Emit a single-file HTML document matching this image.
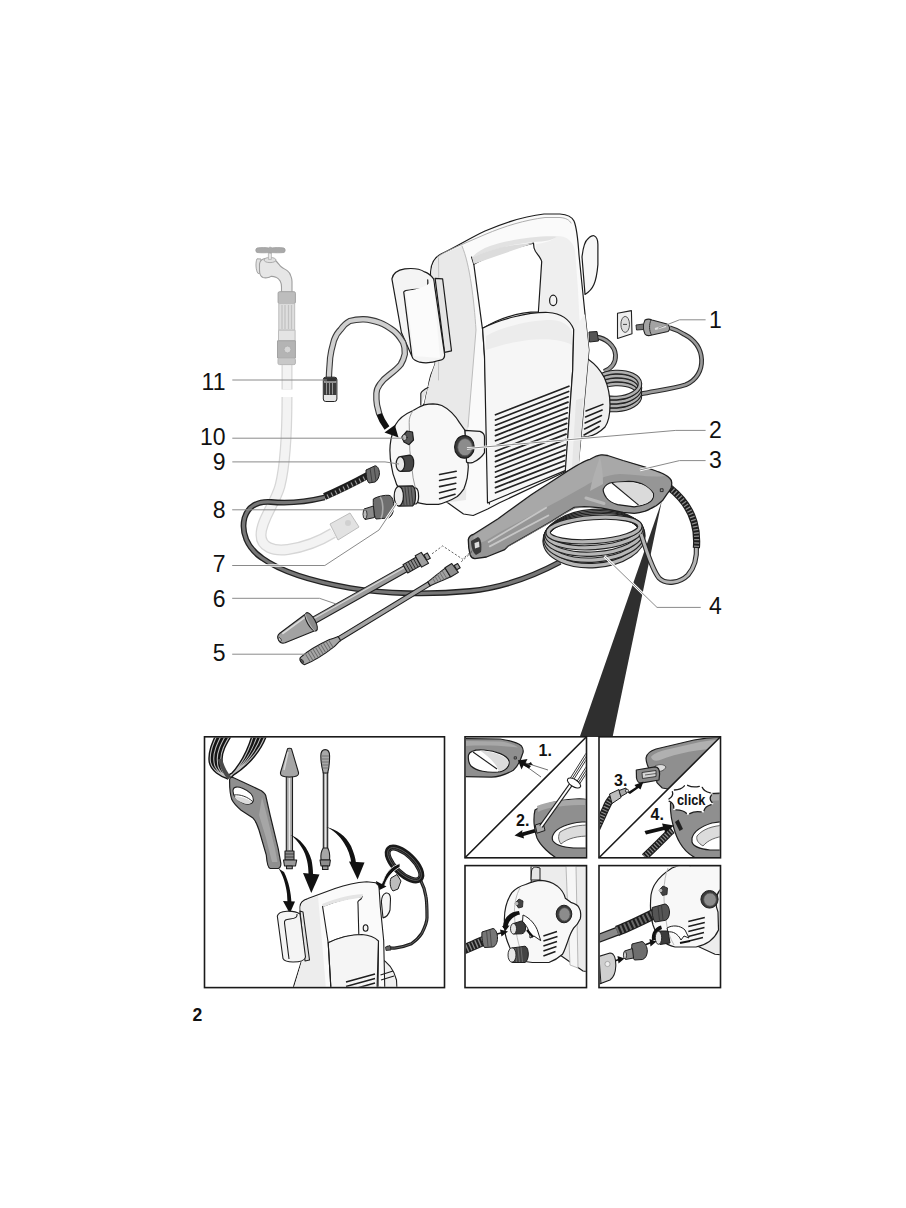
<!DOCTYPE html>
<html><head><meta charset="utf-8"><style>
html,body{margin:0;padding:0;background:#fff;}
body{width:906px;height:1208px;overflow:hidden;}
svg{display:block;}
text{font-family:"Liberation Sans",sans-serif;}
</style></head><body>
<svg width="906" height="1208" viewBox="0 0 906 1208">
<rect width="906" height="1208" fill="#fff"/>
<!-- WEDGE -->
<path d="M579.7,737 L661.8,501 L612.6,737 Z" fill="#2f2f2f"/>
<!-- BOX A CONTENT -->
<clipPath id="cA"><rect x="205.3" y="737.6" width="238.4" height="249.2"/></clipPath>
<g clip-path="url(#cA)" stroke-linejoin="round">
<!-- coil strands -->
<g fill="none">
<path d="M218.0,733 C214.0,742 209.0,752 210.5,762 C212.0,770 221.0,775.5 228.5,777.8 M222.5,733 C218.0,742 212.5,752 214.0,762 C214.5,770 222.5,775.5 228.5,777.8 M227.0,733 C222.0,742 216.0,752 217.5,762 C217.0,770 224.0,775.5 228.5,777.8 M231.5,733 C226.0,742 219.5,752 221.0,762 C219.5,770 225.5,775.5 228.5,777.8 M254.0,733 C250.0,748 242.0,765 230,777.2 M258.0,733 C253.8,748 244.2,765 230,776.7 M262.0,733 C257.6,748 246.4,765 230,776.2 M266.0,733 C261.4,748 248.6,765 230,775.7" stroke="#141414" stroke-width="3.9"/>
<path d="M218.0,733 C214.0,742 209.0,752 210.5,762 C212.0,770 221.0,775.5 228.5,777.8 M222.5,733 C218.0,742 212.5,752 214.0,762 C214.5,770 222.5,775.5 228.5,777.8 M227.0,733 C222.0,742 216.0,752 217.5,762 C217.0,770 224.0,775.5 228.5,777.8 M231.5,733 C226.0,742 219.5,752 221.0,762 C219.5,770 225.5,775.5 228.5,777.8 M254.0,733 C250.0,748 242.0,765 230,777.2 M258.0,733 C253.8,748 244.2,765 230,776.7 M262.0,733 C257.6,748 246.4,765 230,776.2 M266.0,733 C261.4,748 248.6,765 230,775.7" stroke="#bdbdbd" stroke-width="1.1"/>
<path d="M220,759 C222,767 225,773 229.5,778" stroke="#4a4a4a" stroke-width="4.2"/>
</g>
<!-- gun hanging -->
<path d="M229.6,779.5 C230,777.5 232,777 233.1,777.5 L261.4,790.7 C264,792.5 265.5,794 265.8,796 L270.2,815.5 L278.2,848.6 L280.8,863.2 C281,866 280,868 278.2,868.5 L270.2,868.5 C268,868 267,864 266.3,855.2 L259,830 C257,824 255,820 253,818.1 L241.1,810.2 C236,806 233,802 231.8,799.6 C230,794 229.5,786 229.6,779.5 Z" fill="#8f8f8f" stroke="#1e1e1e" stroke-width="1.2"/>
<path d="M262,797 L267,816 L275,849 L277.5,862 L272,862 L266,838 L259,815 Z" fill="#a6a6a6" stroke="none"/>
<path d="M233,791 C233,786 238,786.5 243,788.5 C249,791 253.5,795 253.4,800 C253,804 249,805 244,803.5 C238,801 233,797 233,791 Z" fill="#fff" stroke="#1e1e1e" stroke-width="1.1"/>
<path d="M234,795 C240,794 248,797 252.5,801.5" fill="none" stroke="#333" stroke-width="1"/>
<path d="M234.5,796.5 C240,796 247,798.5 252,802 C250,804.5 246,804.5 243,803 C238,801 235,799 234.5,796.5 Z" fill="#dcdcdc" stroke="none"/>
<!-- lance 6 vertical -->
<g stroke="#1e1e1e" stroke-width="1.1">
<rect x="286.3" y="776" width="6.2" height="76" fill="#a8a8a8"/>
<path d="M289.4,778 V850" stroke="#e8e8e8" stroke-width="1.4"/>
<path d="M287.5,748.8 C288,748 291,748 291.5,748.8 L298.5,772.5 C299,776 296,777 289.4,777 C283,777 280,776 280.5,772.5 Z" fill="#a5a5a5"/>
<path d="M288,752 L284,770" stroke="#d6d6d6" stroke-width="1.5"/>
<rect x="285" y="851" width="9" height="9" fill="#8e8e8e"/>
<path d="M285,854 h9 M285,857 h9" stroke-width="0.7"/>
<path d="M283.5,860 L296.7,860 L295.5,866 L284.5,866 Z" fill="#9a9a9a"/>
<rect x="286.5" y="866" width="5.8" height="2.8" fill="#999"/>
</g>
<!-- lance 5 vertical -->
<g stroke="#1e1e1e" stroke-width="1.1">
<rect x="323.3" y="772" width="4.4" height="78" fill="#aaa"/>
<path d="M325.5,774 V848" stroke="#e6e6e6" stroke-width="1"/>
<path d="M325.2,749.6 C328,749.6 329.6,751 329.6,756 C329.6,764 328.5,770 327.7,773 L323.3,773 C322.5,770 320.8,764 320.8,756 C320.8,751 322.5,749.6 325.2,749.6 Z" fill="#a8a8a8"/>
<path d="M322,756 h7 M322,759 h7.2 M322,762 h7 M322.3,765 h6.6 M322.6,768 h6" stroke="#666" stroke-width="0.8"/>
<path d="M323.3,848 C321,851 320.5,855 321,860 L329.6,860 C330,855 329.5,851 327.7,848 Z" fill="#a6a6a6"/>
<path d="M320,860 L330.4,860 L329.5,866 L321,866 Z" fill="#8e8e8e"/>
<rect x="322.5" y="866" width="5.5" height="3.5" fill="#999"/>
</g>
<!-- arrows -->
<g fill="#111" stroke="none">
<path d="M290.5,835 C300,838 308,848 311.5,860 C312.5,865 313,870 313,874 L308.5,874 C308.5,866 307,856 302,848 C299,843 295,838 290.5,835 Z"/>
<path d="M303,873 L319.5,874.5 L311.3,893 Z"/>
<path d="M326.4,827 C336,829 346,836 351,846 C354,853 355.5,858 356,863 L351.5,864 C350.5,856 348,849 344,843 C340,836 333,830 326.4,827 Z"/>
<path d="M349,861.5 L364.5,862.5 L357.6,879.5 Z"/>
<path d="M278.5,868.5 C283,875 286,885 287,894 L287.5,903 L291.5,903 C291,893 289,882 284,872 Z"/>
<path d="M283,901 L295,901.5 L289.8,913.5 Z"/>
</g>
<!-- power cord + coil ring -->
<g fill="none">
<path d="M386.6,947.4 C390,948.2 393,948.3 395.9,947.9 C402,947 407,945.5 411.4,943.7 C416,940.5 419.5,937 421.8,933.4 C425,927 427,922 427,917.8 C427,910 427,903 426,897 C425,890 423,885 420.7,880.6" stroke="#1e1e1e" stroke-width="3.2"/>
<path d="M386.6,947.4 C390,948.2 393,948.3 395.9,947.9 C402,947 407,945.5 411.4,943.7 C416,940.5 419.5,937 421.8,933.4 C425,927 427,922 427,917.8 C427,910 427,903 426,897 C425,890 423,885 420.7,880.6" stroke="#666" stroke-width="1"/>
<ellipse cx="404.5" cy="864" rx="21.5" ry="9.5" transform="rotate(44 404.5 864)" stroke="#1a1a1a" stroke-width="6"/>
<ellipse cx="404.5" cy="864" rx="21.5" ry="9.5" transform="rotate(44 404.5 864)" stroke="#666" stroke-width="0.8"/>
<ellipse cx="404.5" cy="864" rx="19.5" ry="7.8" transform="rotate(44 404.5 864)" stroke="#555" stroke-width="0.7"/>
</g>
<path d="M385.5,947 L390,945.5 L391,950 L386,950.5 Z" fill="#666" stroke="#1e1e1e" stroke-width="0.8"/>
<path d="M391,878 L397,874.5 L401,881 L398,889 L393,891 C390,888 389.5,882 391,878 Z" fill="#bdbdbd" stroke="#1e1e1e" stroke-width="1"/>
<path d="M400,863.5 C392,866 386,872 383.5,880 L381,885 L384.5,886 C386.5,879 391,872 400,867 Z" fill="#111" stroke="#fff" stroke-width="0.8"/>
<path d="M376,881 L386.5,886.5 L377.5,891 Z" fill="#111"/>
<!-- mini machine -->
<g stroke="#1e1e1e" stroke-width="1.1">
<path d="M380,958 C388,962 394,970 396.5,980 L397,990 L380,990 Z" fill="#f0f0f0"/>
<path d="M292.5,990 L301.2,961.8 L300,907 C300,903 303,900 307.9,898.6 L335,888.5 C345,885 356,882.5 366.7,881.7 L375.7,882.8 C377.5,884 379,886 379.1,888.5 L380.3,906.6 L383.7,940.5 L384.8,990 Z" fill="#fafafa"/>
<path d="M300.5,907 C301,903 304,901 308,899.5 L318,896 C320,920 323,950 326,990 L293.5,990 L301.5,962 Z" fill="#ededed" stroke="none"/>
<path d="M322.6,906.6 C335,901 350,897.5 362.2,896.4 L361,899 C357.5,901 357.6,902 358,904 L358.8,934.8 C348,935.5 338,938 328.2,942.8 Z" fill="#fff"/>
<path d="M323.5,907 C335,902 350,899 362,897.5 L363,894 C348,895 334,899 322,904 Z" fill="#e4e4e4" stroke="none"/>
<path d="M328.2,942.8 C340,937 352,934.5 362,934.5 C370,935 375,937.5 378.5,941 L378,990 L331,990 Z" fill="#f5f5f5"/>
<path d="M378.5,941 L377,990" fill="none"/>
<path d="M328.2,942.8 L331,990" fill="none"/>
<path d="M381.4,902 C381.5,898 383,894 386,893 C389,892.5 390.5,895 390.5,899 L390,910 C389,914 386,917 383,917.9 Z" fill="#f6f6f6"/>
<ellipse cx="365.6" cy="928" rx="2.4" ry="3.3" fill="#f4f4f4"/>
<path d="M300,911 L303,912 L309.5,960 L305,961 Z" fill="#e2e2e2"/>
<path d="M277.3,916 C278,913 282,911.5 287,911.2 C292,911 297,912 300,914 L305.5,957 C305,960.5 300,962 293,962 C287,962 284,960.5 283,958.5 Z" fill="#f4f4f4"/>
<path d="M297,914 C297.5,917 296,918.5 290,919 C286,919.5 284,920 284.5,923 L289,959" fill="none"/>
<path d="M346,982 L375,974 M346,986.5 L375,978.5 M350,990 L375,983" stroke-width="1.5"/>
<path d="M380.5,975 L393,971 M381,980 L394,976" stroke-width="1.3"/>
</g>
</g>

<!-- BOX B CONTENT -->
<clipPath id="cB1"><path d="M465.8,737.6 L585.7,737.6 L465.8,857 Z"/></clipPath>
<clipPath id="cB2"><path d="M585.7,737.6 L585.7,857 L465.8,857 Z"/></clipPath>
<clipPath id="cC1"><path d="M599.8,737.6 L719.7,737.6 L599.8,857 Z"/></clipPath>
<clipPath id="cC2"><path d="M719.7,737.6 L719.7,857 L599.8,857 Z"/></clipPath>
<g clip-path="url(#cB1)" stroke-linejoin="round">
<path d="M460,738.5 L500,739 C510,740.5 518,743 521.5,746 C523.5,749 523.5,752 522.5,754 C520,762 516,768 513.3,770.2 C505,775 498,777 491.4,777.1 L460,776.5 Z" fill="#8f8f8f" stroke="#1e1e1e" stroke-width="1.2"/>
<path d="M462,741 L500,741.5 C509,742.5 515,745 518,747.5 C505,746 490,745 462,746 Z" fill="#a8a8a8" stroke="none"/>
<path d="M468.5,755 C470,750 476,749.5 484,750 C496,751 507,755 509,761 C510,766 506,771 498,772 C488,773 476,771 471,766 C468.5,763 468,759 468.5,755 Z" fill="#fff" stroke="#1e1e1e" stroke-width="1.2"/>
<path d="M480,750.5 C494,751.5 506,756 508.5,762 C509,766 505,770 499,771.5 C496,763 488,756 480,750.5 Z" fill="#dcdcdc" stroke="none"/>
<path d="M473,752 L497,769" stroke="#1e1e1e" stroke-width="1.1"/>
<rect x="514.2" y="756.8" width="2.2" height="2.2" fill="none" stroke="#222" stroke-width="0.8"/>
<path d="M518.1,760.5 L548,770" stroke="#333" stroke-width="0.7"/>
<path d="M518.1,760.5 L541,777" stroke="#333" stroke-width="0.7"/>
<path d="M527,764.5 L531,762 C531.5,763.5 532,764 533,765 Z" fill="#111"/>
<path d="M518.1,760.6 L527.5,759 L525.5,763 L531,766 L529,768.5 L523.5,765.5 L521.5,769.5 Z" fill="#111"/>
<text x="538.5" y="755.5" font-size="16" font-weight="bold" fill="#111">1.</text>
</g>
<g clip-path="url(#cB2)" stroke-linejoin="round">
<path d="M535,810 C545,803 560,800 575,799 C582,798.5 586,799 590,800 L590,860 L560,860 C550,855 540,845 537,838 C534,830 533,818 535,810 Z" fill="#8f8f8f" stroke="#1e1e1e" stroke-width="1.2"/>
<path d="M537,806 C548,801 565,799 590,799.5 L590,805 C570,805 550,806 538,812 Z" fill="#a8a8a8" stroke="none"/>
<path d="M553,835 C556,828 568,823 582,822 L590,822 L590,848 L578,848 C565,848 556,845 553,841 C552,839 552,837 553,835 Z" fill="#fff" stroke="#1e1e1e" stroke-width="1.2"/>
<path d="M560,832 C570,826 580,825 590,825 L590,836 C578,836 568,838 561,844 C558,840 558,836 560,832 Z" fill="#dcdcdc" stroke="#444" stroke-width="0.8"/>
<path d="M535.2,825 L543,822.5 L545,830.5 L537,833.2 Z" fill="#aaa" stroke="#1e1e1e" stroke-width="1"/>
<path d="M541,826.5 L572,783" stroke="#1e1e1e" stroke-width="4.2"/>
<path d="M541,826.5 L572,783" stroke="#fff" stroke-width="2"/>
<path d="M570.4,778.0 L589.4,748.0 M571.9,779.0 L590.9,749.0 M573.4,780.0 L592.4,750.0 M576.6,782.0 L595.6,752.0 M578.1,783.0 L597.1,753.0 M579.6,784.0 L598.6,754.0 " stroke="#1e1e1e" stroke-width="0.9"/>
<ellipse cx="574" cy="783" rx="7.5" ry="3.6" transform="rotate(32.6 574 783)" fill="#fff" stroke="#1e1e1e" stroke-width="1.1"/>
<path d="M534.5,829 L522,832.5 L522.5,830 L514.5,835.5 L524,838.5 L523.5,836 L535.5,832.5 Z" fill="#111"/>
<text x="516" y="826" font-size="16" font-weight="bold" fill="#111">2.</text>
</g>
<!-- BOX C CONTENT -->
<g clip-path="url(#cC1)" stroke-linejoin="round">
<path d="M646,758 C646.5,754 650,751 656,749 L694,740 C705,738 720,737 730,737 L730,800 L662.3,788 C658,784 656,782 656.9,781.2 C652,774 648,768 647.3,764.7 C646.5,762 646,760 646,758 Z" fill="#8f8f8f" stroke="#1e1e1e" stroke-width="1.2"/>
<path d="M651,757 C653,754 658,752 665,750 L700,742 C710,740 720,739.5 728,739.5 L728,748 C705,748 680,752 660,760 C655,762 652,760 651,757 Z" fill="#b0b0b0" stroke="none"/>
<path d="M655,766 C659,764 664,764 666,767 C664,771 660,772 657,771 Z" fill="#ddd" stroke="#444" stroke-width="0.8"/>
<path d="M636.3,770 L655,766.8 C658.5,767 659.6,770 659.6,774 L659,780 L641,783.2 C638.5,783 637,781 636.5,778 Z" fill="#8a8a8a" stroke="#1e1e1e" stroke-width="1.2"/>
<path d="M642,772.5 L656,770.5 L656,776.5 L642.5,778.5 Z" fill="#d6d6d6" stroke="#222" stroke-width="0.8"/>
<path d="M645,775 L656,773.5" stroke="#444" stroke-width="0.8"/>
<text x="614" y="785.5" font-size="16" font-weight="bold" fill="#111">3.</text>
<path d="M627.5,792.5 L636,787 L634.5,785 L643.5,781.5 L640.5,789.5 L638.5,788 L630,794 Z" fill="#111"/>
<path d="M596,830 L606,808 C608,803 610,800 612,798" fill="none" stroke="#1e1e1e" stroke-width="7.5"/>
<path d="M596,830 L606,808 C608,803 610,800 612,798" fill="none" stroke="#8a8a8a" stroke-width="5.4" stroke-dasharray="1.2 1.8"/>
<path d="M609.5,794 L619,789.5 L621,797.5 L612,803.5 Z" fill="#bdbdbd" stroke="#1e1e1e" stroke-width="1"/>
<path d="M619,790.5 L626,788 L627,793 L621,796.5 Z" fill="#a8a8a8" stroke="#1e1e1e" stroke-width="1"/>
<circle cx="627" cy="790.8" r="1.6" fill="#ddd" stroke="#1e1e1e" stroke-width="0.8"/>
</g>
<g clip-path="url(#cC2)" stroke-linejoin="round">
<path d="M670.5,803 C672,798 678,795 690,794.5 L725,793 L725,860 L700,860 C690,856 684,850 680,843 C675,835 671,820 670.5,810 Z" fill="#8f8f8f" stroke="#1e1e1e" stroke-width="1.2"/>
<path d="M672,800 C676,797 685,796 695,795.5 L725,794.5 L725,800 C705,801 690,803 675,808 C672,806 671,803 672,800 Z" fill="#a8a8a8" stroke="none"/>
<path d="M692,838 C694,831 702,826 712,823 L725,821 L725,850 L710,850 C700,849 693,846 692,842 Z" fill="#fff" stroke="#1e1e1e" stroke-width="1.2"/>
<path d="M697,836 C703,829 712,826 725,825 L725,836 C716,837 708,840 703,846 C698,843 696,840 697,836 Z" fill="#dcdcdc" stroke="#444" stroke-width="0.8"/>
<path d="M675,822 L678.5,819.5 L683,829 L679.5,831 Z" fill="#222"/>
<path d="M644.5,857 C652,850 660,842 666,836 C669,833 671,831 672.5,830" fill="none" stroke="#1e1e1e" stroke-width="7.5"/>
<path d="M644.5,857 C652,850 660,842 666,836 C669,833 671,831 672.5,830" fill="none" stroke="#8a8a8a" stroke-width="5.4" stroke-dasharray="1.2 1.8"/>
<path d="M644.5,831 L663,826.5 L662,823.5 L674,825.5 L665,833 L664.5,830 L646,834.5 Z" fill="#111"/>
<path d="M713.7,804.0 Q704.2,806.0 703.8,812.5 Q694.5,810.0 687.8,814.9 Q683.1,809.1 673.2,810.0 Q675.3,803.6 666.8,800.2 Q674.8,796.2 671.7,790.0 Q681.7,790.2 685.5,784.2 Q692.9,788.6 701.8,785.5 Q703.1,792.0 712.9,793.4 Q707.6,798.9 713.7,804.0 Z" fill="#fff" stroke="none"/>
<g fill="none" stroke="#1e1e1e" stroke-width="1.3" stroke-linecap="round"><path d="M711.1,804.6 Q705.0,806.4 704.0,810.7"/><path d="M701.2,811.9 Q694.8,810.7 689.7,813.6"/><path d="M686.4,813.3 Q682.7,809.7 675.9,809.8"/><path d="M673.7,808.2 Q674.4,803.9 669.1,801.2"/><path d="M668.9,799.0 Q673.8,796.0 672.4,791.7"/><path d="M674.4,790.0 Q681.1,789.7 684.4,785.8"/><path d="M687.6,785.3 Q693.0,787.9 699.3,786.3"/><path d="M702.2,787.3 Q703.9,791.5 710.3,792.9"/><path d="M711.5,794.9 Q708.6,798.8 712.1,802.6"/></g>
<text x="677" y="805.3" font-size="15" font-weight="bold" fill="#111" textLength="28.5" lengthAdjust="spacingAndGlyphs">click</text>
<text x="650.5" y="820" font-size="16" font-weight="bold" fill="#111">4.</text>
</g>

<!-- BOX D CONTENT -->
<clipPath id="cD"><rect x="465.8" y="866.4" width="119.9" height="120.4"/></clipPath>
<clipPath id="cE"><rect x="599.8" y="866.4" width="119.9" height="120.4"/></clipPath>
<g clip-path="url(#cD)" stroke-linejoin="round">
<path d="M531,866 L590,866 L590,972 L583,971 L560,955 L532,940 Z" fill="#ececec" stroke="#1e1e1e" stroke-width="1.1"/>
<path d="M566,866 L576,866 L578,968 L570,965 Z" fill="#f6f6f6" stroke="#aaa" stroke-width="0.8"/>
<path d="M531,880 L531.5,871 C532,868 534,867 536,867 L540,868 L540,880 Z" fill="#e6e6e6" stroke="#1e1e1e" stroke-width="1"/>
<path d="M504.4,918.7 C504.5,910 507,900 511.9,892.7 C516,888 520,886 525.6,884.5 C532,882 536,880.5 540.7,880.4 C547,880.5 553,883 557.1,885.9 C561,889 564,893 565.3,898.2 L570.8,902.3 C575,903.5 578,905 579,907.8 C581,911 581,915 580.3,918.7 C578.5,923 576,926 573.5,928.3 C571,932 569.5,936 568,940.6 C566,946 564.5,951 562.5,954.3 C558,958.5 553,961 548.9,962.5 L532.4,962.5 C526,962 522,961 518.7,959.8 C514,956 511,951 509.2,946.1 C507,941 505.5,937 505.1,932.4 C504.5,928 504.3,923 504.4,918.7 Z" fill="#f8f8f8" stroke="#1e1e1e" stroke-width="1.2"/>
<path d="M520,888 C516,895 514,905 514.5,915 C515,930 518,945 524,960" fill="none" stroke="#bbb" stroke-width="1"/>
<ellipse cx="564" cy="914" rx="7.8" ry="8.8" fill="#3a3a3a" stroke="#1e1e1e" stroke-width="1"/>
<ellipse cx="564.5" cy="914.3" rx="5.6" ry="6.6" fill="#8c8c8c" stroke="#555" stroke-width="0.8"/>
<path d="M515,903 L519,899 L523,901 L522.5,907 L518.5,908 Z" fill="#444" stroke="#1e1e1e" stroke-width="0.8"/>
<circle cx="516.5" cy="903.5" r="1.8" fill="#bbb"/>
<path d="M543.4,936 L557,931.5 M543.4,941 L557.5,936.5 M543.4,946 L557,941.5 M543.4,951 L556.5,946.5 M543.4,956 L555.5,951.5" stroke="#1e1e1e" stroke-width="1.5"/>
<path d="M523,915 C530,918 536,925 538,932 L540.7,940.6 L534,936 L530,938 C530,932 527,925 522.5,922 Z" fill="#fff" stroke="#1e1e1e" stroke-width="1"/>
<path d="M503,928 C503,918 510,911.5 519,911 L520,914.5 C513,916 508,921 507.5,928 Z" fill="#111"/>
<path d="M502,926 L509.5,925.5 L505.5,931 Z" fill="#111"/>
<path d="M533,937 L527,930" stroke="#111" stroke-width="2.2"/>
<path d="M513.5,923.5 L521.5,921 C524,921.5 525.6,925 525.6,928 C525.6,931.5 524,933.5 521.5,933.8 L513.5,934 Z" fill="#3c3c3c" stroke="#1e1e1e" stroke-width="1"/>
<ellipse cx="513.5" cy="928.7" rx="3" ry="5.3" fill="#e6e6e6" stroke="#1e1e1e" stroke-width="0.9"/>
<path d="M512,948 L525,946.2 C527.5,947 528.3,951 528.3,954 C528.3,958 527,961.5 525,962.5 L512,962.5 Z" fill="#444" stroke="#1e1e1e" stroke-width="1"/>
<path d="M515,948 l1.5,14 M518,947.6 l1.5,14.5 M521,947.2 l1.5,14.8" stroke="#777" stroke-width="0.8"/>
<ellipse cx="512" cy="955" rx="4" ry="7.2" fill="#e6e6e6" stroke="#1e1e1e" stroke-width="0.9"/>
<path d="M460,951 C470,947 478,943 486,940" fill="none" stroke="#1e1e1e" stroke-width="10"/>
<path d="M460,951 C470,947 478,943 486,940" fill="none" stroke="#888" stroke-width="8" stroke-dasharray="1.4 2"/>
<path d="M482,932 L493,928.5 C496,929 497.5,934 497.5,938 C497.5,942 496,946 493,947 L484.5,947.5 C482.5,945 481.5,937 482,932 Z" fill="#777" stroke="#1e1e1e" stroke-width="1"/>
<path d="M486.5,930.5 l1.5,16 M490,929.5 l1.5,17.5" stroke="#444" stroke-width="0.8"/>
<path d="M497,934 L503,932.5" stroke="#111" stroke-width="1.3"/>
<path d="M500,929.5 L508,931.5 L501.5,936.5 Z" fill="#111"/>
</g>
<!-- BOX E CONTENT -->
<g clip-path="url(#cE)" stroke-linejoin="round">
<path d="M690,866 L725,866 L725,955 L715,954.3 L695,945 Z" fill="#ececec" stroke="#1e1e1e" stroke-width="1.1"/>
<path d="M655,884 C658,879 664,873 672,868 L680,865 L725,865 L725,888 L720,890 C715,896 715,905 718,912 L718.5,930 C714,940 706,945 696,947 L675,947 C665,945 657,937 653,925 C650,915 650,905 651,895 C652,890 653,887 655,884 Z" fill="#f8f8f8" stroke="#1e1e1e" stroke-width="1.2"/>
<path d="M668,868 C663,880 663,900 666,920 C667,930 670,938 674,945" fill="none" stroke="#bbb" stroke-width="1"/>
<ellipse cx="709.5" cy="899.3" rx="8.6" ry="8.8" fill="#3a3a3a" stroke="#1e1e1e" stroke-width="1"/>
<ellipse cx="710" cy="899.6" rx="6.3" ry="6.6" fill="#8c8c8c" stroke="#555" stroke-width="0.8"/>
<path d="M659,890 L663,886 L667.5,888 L667,894.5 L662.5,895.5 Z" fill="#444" stroke="#1e1e1e" stroke-width="0.8"/>
<circle cx="660.5" cy="890.5" r="1.8" fill="#bbb"/>
<path d="M688.3,921.5 L704.8,917.4 M688.3,926.5 L704.8,922.4 M688.3,931.5 L704.5,927.4 M688.3,936.5 L704,932.4 M689,941 L703,937.4" stroke="#1e1e1e" stroke-width="1.5"/>
<path d="M593,940.5 L618,931" fill="none" stroke="#1e1e1e" stroke-width="9"/>
<path d="M593,940.5 L618,931" fill="none" stroke="#8a8a8a" stroke-width="6.6"/>
<path d="M617,931 C630,926 642,920 656,913" fill="none" stroke="#1e1e1e" stroke-width="10.5"/>
<path d="M617,931 C630,926 642,920 656,913" fill="none" stroke="#6a6a6a" stroke-width="8.2" stroke-dasharray="2 2.2"/>
<path d="M652.3,907.5 L665,904 C668,904.5 669.5,909 669.5,912 C669.5,916 668,919.5 665.5,920.3 L655,922 C652.5,919 651.5,912 652.3,907.5 Z" fill="#555" stroke="#1e1e1e" stroke-width="1"/>
<path d="M658,906.5 l1.5,14 M661.5,905.5 l1.5,14.5" stroke="#333" stroke-width="0.8"/>
<path d="M667,928 C672,925 680,925 685,930 L689,938 L684,936 L681,940 C678,934 673,931 668,932 Z" fill="#fff" stroke="#1e1e1e" stroke-width="1"/>
<path d="M652,940 C651,933 655,927 661,925.5 L662,929 C658,930.5 655.5,935 656,940 Z" fill="#111"/>
<path d="M658,931 L668,931 L670,943 L660,944.5 C657.5,942 657,936 658,931 Z" fill="#3c3c3c" stroke="#1e1e1e" stroke-width="1"/>
<ellipse cx="658.5" cy="937.8" rx="3.2" ry="6.5" fill="#e6e6e6" stroke="#1e1e1e" stroke-width="0.9"/>
<path d="M680,943 L690,941" stroke="#111" stroke-width="1.8"/>
<path d="M632,944 L642,941.5 C645,942.5 647.3,947 647.3,951 C647.3,955 645.5,958.5 642.5,959.5 L634.5,960 C632,957 631,950 632,944 Z" fill="#6e6e6e" stroke="#1e1e1e" stroke-width="1"/>
<path d="M624.5,951 L632.5,948.5 L633.5,958 L625.5,959.5 C623.5,957 623.5,953 624.5,951 Z" fill="#8a8a8a" stroke="#1e1e1e" stroke-width="1"/>
<ellipse cx="625" cy="955.2" rx="1.6" ry="3.6" fill="#ccc" stroke="#1e1e1e" stroke-width="0.8"/>
<path d="M646,944.5 L651,942.5" stroke="#111" stroke-width="1.6"/>
<path d="M649.5,939 L656.5,941.5 L650.5,946.5 Z" fill="#111"/>
<path d="M614.5,961 L619,959.5" stroke="#111" stroke-width="1.6"/>
<path d="M617.5,956 L624.5,958.5 L618.5,963.5 Z" fill="#111"/>
<path d="M594,958 L610,953 C614.5,953 616,959 615.8,966 C615.5,973 613,978 610,980 L594,986 Z" fill="#cfcfcf" stroke="#1e1e1e" stroke-width="1.1"/>
<circle cx="607.5" cy="964" r="2.6" fill="#eee" stroke="#999" stroke-width="0.8"/>
<path d="M599,957 L601,984" stroke="#1e1e1e" stroke-width="1"/>
</g>

<!-- FRAMES -->
<g fill="none" stroke="#1a1a1a" stroke-width="1.6">
<rect x="204.5" y="736.8" width="240" height="250.8"/>
<rect x="465" y="736.8" width="121.5" height="121"/>
<rect x="599" y="736.8" width="121.5" height="121"/>
<rect x="465" y="865.6" width="121.5" height="122"/>
<rect x="599" y="865.6" width="121.5" height="122"/>
<path d="M465,857.8 L586.5,736.8 M599,857.8 L720.5,736.8"/>
</g>
<!-- GHOST TAP + GARDEN HOSE -->
<g id="ghost" stroke="#bdbdbd" stroke-width="1" stroke-linejoin="round">
<path d="M287,365 L287,389.5 M287,397 C287,430 285,466 280,486 C275,504 261,520 261,535 C261,547 273,551.5 288,549.5 C305,547 320,541 333,533" fill="none" stroke="#d6d6d6" stroke-width="11" stroke-linecap="butt"/>
<path d="M287,365 L287,389.5 M287,397 C287,430 285,466 280,486 C275,504 261,520 261,535 C261,547 273,551.5 288,549.5 C305,547 320,541 333,533" fill="none" stroke="#f3f3f3" stroke-width="8.5" stroke-linecap="butt"/>
<path d="M330,524 L350,513 L359,527 L338,540 Z" fill="#e2e2e2"/>
<circle cx="348" cy="523" r="3" fill="#d0d0d0" stroke="none"/>
<path d="M257,258.8 C255.5,262 255.5,270 258,273.5 L261,273 L261,259 Z" fill="#e2e2e2" stroke="#a6a6a6"/>
<path d="M276,261 C278,263 279.5,265 280.9,266.5 C283,268.5 286,269.5 287.5,270.9 C289.5,272.5 290.5,274 290.8,275.9 C291.6,278 292,280 292,281.4 L292,292.4 L281.5,292.4 L281.5,286.9 C281.5,284 281,282.5 280.4,281.4 C279,279 278,278 276.5,277.5 C274,276.5 272.5,276.2 271,276.4 C269,278 265,278.2 263,277.5 C260.5,276.5 259.5,274 259.5,270 L259.5,264 C260,260.5 262,259 265,258.5 Z" fill="#e6e6e6" stroke="#9e9e9e" stroke-width="1.1"/>
<ellipse cx="270" cy="260" rx="6" ry="2.6" fill="#e0e0e0" stroke="#a6a6a6" stroke-width="0.9"/>
<rect x="268.4" y="252.4" width="3" height="7" fill="#e8e8e8" stroke="#b0b0b0" stroke-width="0.8"/>
<path d="M257,248 C262,247.3 266,247.6 268.5,247.9 C269.5,247 271,247 272,247.9 C275,247.6 279,247.3 284,248 C285.6,248.6 285.6,252 284,252.5 C279,253 275,252.8 272,252.6 C271,253.3 269.5,253.3 268.5,252.6 C266,252.8 262,253 257,252.5 C255.4,252 255.4,248.6 257,248 Z" fill="#a9a9a9" stroke="#999" stroke-width="0.7"/>
<rect x="278.1" y="291.7" width="17.3" height="11.9" rx="1.5" fill="#bdbdbd" stroke="#a3a3a3"/>
<rect x="278.8" y="303.6" width="15.9" height="26.6" fill="#dedede"/>
<path d="M282,305 V329 M285,305 V329 M288.5,305 V329 M291.5,305 V329" stroke="#c2c2c2" stroke-width="1.3"/>
<rect x="278.5" y="330.2" width="16.6" height="10.6" fill="#e4e4e4"/>
<rect x="277.5" y="340.8" width="17.9" height="17.2" fill="#b4b4b4" stroke="#a3a3a3"/>
<circle cx="287.5" cy="349.5" r="3.5" fill="#d6d6d6" stroke="#b0b0b0"/>
<rect x="278" y="358" width="17.4" height="6.6" rx="1.5" fill="#c8c8c8" stroke="#b5b5b5"/>
</g>
<!-- LONG BLACK HOSE -->
<path d="M324.5,497.5 C310,501 292,504 271,502 C258,501 248,506 244.5,518 C241,532 247,548 262,558 C280,571 310,581 350,588 C385,594 430,595 470,591 C500,588 530,578 560,562" fill="none" stroke="#222" stroke-width="5.8"/>
<path d="M324.5,497.5 C310,501 292,504 271,502 C258,501 248,506 244.5,518 C241,532 247,548 262,558 C280,571 310,581 350,588 C385,594 430,595 470,591 C500,588 530,578 560,562" fill="none" stroke="#777" stroke-width="3.2"/>
<!-- POWER CORD -->
<g id="cord" stroke-linejoin="round">
<g fill="none" stroke="#2a2a2a" stroke-width="4.8">
<path d="M596,337 C606,338 615,346 615.5,355 C616,364 610,369 604,371.5"/>

<path d="M640.6,394 C655,391 672,389 685.7,384.8 C697,380 702,370 701.6,359.6 C701,348 695,340 684.3,334.4 C679,331 674,329 669.8,327.8"/>
</g>
<g fill="none" stroke="#9a9a9a" stroke-width="2.6">
<path d="M596,337 C606,338 615,346 615.5,355 C616,364 610,369 604,371.5"/>

<path d="M640.6,394 C655,391 672,389 685.7,384.8 C697,380 702,370 701.6,359.6 C701,348 695,340 684.3,334.4 C679,331 674,329 669.8,327.8"/>
</g>
<g fill="none">
<ellipse cx="616" cy="397" rx="24" ry="13" transform="rotate(-3 616 397)" stroke="#222" stroke-width="4.6"/>
<ellipse cx="616" cy="397" rx="24" ry="13" transform="rotate(-3 616 397)" stroke="#b0b0b0" stroke-width="2.4"/>
<ellipse cx="616" cy="393" rx="24" ry="13" transform="rotate(-3 616 393)" stroke="#222" stroke-width="4.6"/>
<ellipse cx="616" cy="393" rx="24" ry="13" transform="rotate(-3 616 393)" stroke="#b0b0b0" stroke-width="2.4"/>
<ellipse cx="616" cy="389" rx="24" ry="13" transform="rotate(-3 616 389)" stroke="#222" stroke-width="4.6"/>
<ellipse cx="616" cy="389" rx="24" ry="13" transform="rotate(-3 616 389)" stroke="#b0b0b0" stroke-width="2.4"/>
<ellipse cx="616" cy="385" rx="24" ry="13" transform="rotate(-3 616 385)" stroke="#222" stroke-width="4.6"/>
<ellipse cx="616" cy="385" rx="24" ry="13" transform="rotate(-3 616 385)" stroke="#b0b0b0" stroke-width="2.4"/>
</g>
<path d="M589,332 L597,331.5 L598.5,341 L589.5,342 Z" fill="#555" stroke="#222" stroke-width="1"/>
<path d="M617.5,313.2 L631.4,310.6 L632,333.8 L617.5,338.4 Z" fill="#f0f0f0" stroke="#222" stroke-width="1.1"/>
<ellipse cx="625.2" cy="324.4" rx="4.3" ry="8" fill="#dedede" stroke="#444" stroke-width="0.9"/>
<path d="M623,324.4 h4" stroke="#444" stroke-width="1"/>
<path d="M636,325 L643.5,324 L643.5,329.5 L636.5,330 Z" fill="#777" stroke="#222" stroke-width="0.9"/>
<path d="M645,320 C647,319 650,319 652,320 L667,324 C670,325.5 670.5,329.5 668,331.5 L652,335 C649,336 646,335.5 645,334 C643,330 643,324 645,320 Z" fill="#a3a3a3" stroke="#222" stroke-width="1.1"/>
<path d="M651,320 C649,324 649,331 651.5,335" fill="none" stroke="#333" stroke-width="1"/>
<path d="M655,329 L666,326" stroke="#e0e0e0" stroke-width="2"/>
</g>

<!-- MACHINE -->
<g id="machine" stroke="#1c1c1c" stroke-width="1.2" stroke-linejoin="round" stroke-linecap="round">
<!-- side housing -->
<path d="M586,357 L588.9,359.7 C595,364 601,371 604.5,378 C608,386 610,396 610,405 C610,415 608.5,422 605,427 C600,432 594,435.5 588,436.5 L580,437.5 Z" fill="#f0f0f0"/>
<path d="M586,411 L602.9,404.4 M585.5,417 L602.2,410 M585,423 L601.5,415.5 M584.5,429 L600.5,421 M584,435 L599.2,426.5" stroke-width="1.5"/>
<!-- body silhouette -->
<path d="M423,406 L424.8,402.4 C426,396 427,391 428.1,387.5 C429,382 430,376 432.5,371 C434,367 435,365 435.3,363 L431,345 L430.6,272 C431,263 435,257 441,254 C456,247 470,238 485,231 C505,222.5 525,216 544,214 L560,214 C567,214.5 572,217 574,221 C577,228 578,240 579,255 L582,284.5 L585,314 L588.9,350 L583.5,410 L578.2,465.2 L565.2,471.7 L499,503 L487.7,509 L473.2,515.5 L463.5,514 L447.4,502.6 L431,480 Z" fill="#fafafa"/>
<!-- left post side face shade -->
<path d="M431.5,272 C432,263 436,257 442,254 L462,246 C470,260 474,300 476,330 L468,427 L466,500 L447.4,502.6 L431,480 L424,406 C426,396 428,385 432.5,371 L435.3,363 L431.5,345 Z" fill="#e9e9e9" stroke="none"/>
<path d="M428.1,387.5 C425,389 421.5,391 420.8,393.5 L420.8,405" fill="#e4e4e4" stroke-width="1.1"/>
<path d="M438.5,258 L439,300 L438.5,380" fill="none" stroke="#bdbdbd" stroke-width="0.9"/>
<path d="M437.5,257 C442,253.5 448,250.5 455,247.5 L485,234.5 C505,226 525,220 545,217.5 L560,217.5 C566,218 569.5,220 571,223" fill="none" stroke="#9a9a9a" stroke-width="0.8"/>
<path d="M536,244 C545,243 552,241 557,236 C566,236 572,240 575,250 L578,290 L580,330 L574,329 C570,321 562,315 553,313.5 L540,312 L541.7,261.5 C540,258 537,255 535.5,251.5 Z" fill="#efefef" stroke="none"/>
<!-- hole -->
<path d="M473.8,264.2 C485,258 505,250 533.5,243.2 C533.5,246 534,249 535.5,251.5 C538,255 541,258 541.7,261.5 L538.4,311.9 C520,312 500,318 482.4,328.6 Z" fill="#ffffff"/>
<path d="M471.6,257 L473.8,264.2" fill="none"/>
<!-- handle top shading -->
<path d="M472,257.5 C490,250 512,244 533.5,242 C545,241.5 553,240 557,236.5 C540,235.5 512,239 490,246 C482,249 476,252.5 472,257.5 Z" fill="#e2e2e2" stroke="none"/>
<path d="M473.8,264 L472,257.5 C490,249 512,244 533.5,243.2 Z" fill="#dcdcdc" stroke="none"/>
<!-- post lines -->
<path d="M482.6,328.2 L484.5,356 L487,430 L489.4,504" fill="none"/>
<path d="M462,246 C470,265 474,300 476,330 L468,427" fill="none" stroke="#bdbdbd" stroke-width="1"/>
<!-- motor housing top + front panel -->
<path d="M482.6,328.2 C500,319 528,312 548,312.5 C562,313.5 570,320 573.7,329.4 L572.7,370 L565.8,470.4 L487.5,503 L484.5,356 Z" fill="#f6f6f6"/>
<path d="M486,336 C505,326 530,320 552,320 C563,321 569,325 572,332 L572,345 C560,338 530,335 486,350 Z" fill="#ececec" stroke="none"/>
<!-- right post -->
<path d="M573.7,329.4 L572.7,370 L565.2,471.7 L578.2,465.2 L583.5,410 L588.9,350 L585,314 Z" fill="#f1f1f1" stroke="none"/>
<path d="M576,400 L583,398 L579,465 L572,467 Z" fill="#e6e6e6" stroke="none"/>
<path d="M573.7,329.4 L572.7,370 L565.2,471.7" fill="none"/>
<!-- small oval hole -->
<ellipse cx="553.2" cy="300.4" rx="3.6" ry="5.2" fill="#f4f4f4"/>
<!-- cord hook tab -->
<path d="M582,257 C583,248 585,241 588,238.8 C590,236 593,235.5 594,235.8 C597,237 598,240 597.9,245 L597.9,264.6 C597,275 595,282 593.9,284.5 C592,289 589,292 585,294.4 Z" fill="#f7f7f7"/>
<!-- grille -->
<path d="M495.5,414.8 L568.9,386.2 M495.5,420.0 L568.6,391.5 M495.5,425.2 L568.3,396.8 M495.5,430.4 L568.0,402.1 M495.5,435.6 L567.6,407.5 M495.5,440.8 L567.3,412.8 M495.5,446.0 L567.0,418.1 M495.5,451.2 L566.7,423.4 M495.5,456.4 L566.4,428.8 M495.5,461.6 L566.1,434.1 M495.5,466.8 L565.8,439.4 M495.5,472.0 L565.5,444.7 M495.5,477.2 L565.1,450.0 M495.5,482.4 L564.8,455.4 M495.5,487.6 L564.5,460.7 M495.5,492.8 L564.2,466.0" stroke-width="1.7" stroke="#222"/>
<!-- holster -->
<path d="M435.1,278.3 L442.6,278.8 L451.5,350.8 L444.6,352.3 Z" fill="#e4e4e4"/>
<path d="M391.9,278.8 C393,273 398,270 404.8,268.9 C412,268 420,269 424.7,271.9 C428,273 431,275.5 433.6,278.8 L444.6,354.3 C445,358 443,360 439.6,360.3 C432,363 424,363 419.7,362.2 C416,361 413.5,359.5 412.8,358.3 L401.4,332.5 Z" fill="#f4f4f4"/>
<path d="M427.7,279.8 C428,283 428,286 426.7,287.8 C423,289 413,289.5 405.8,290.7 C404,291 403.5,292 403.8,292.7 L411.8,355.3" fill="none"/>
<path d="M406,292 L414,356 L440,358 L433,279 C430,285 420,289 406,291 Z" fill="#fbfbfb" stroke="none"/>
<!-- pump head -->
<path d="M395.5,424.8 C398,420 405,414 413.1,410.5 C418,407.5 421,406 424.2,404.9 C428,404 431,403.8 433,403.8 C436,404 439,404.5 441.8,405.5 C446,407.5 449,410 451.7,412.7 C455,416 458,420 459.5,422.6 L465,430.3 L468.3,466.7 C468,472 467.5,475 467.2,477.8 C466,483 465,486 463.9,488.8 C461,493 459,495 457.3,496.5 C454,498.5 451,500 448.4,501 C445,502.5 441,503.8 438.5,504.3 L426.4,504.3 C422,503.5 419,503 416.4,502.1 C408,497 401,491 398.8,487.7 C396.5,485 395.8,483 395.5,481.1 C393,475 392,470 391.6,466.7 C390.2,460 389.9,455 389.9,450.2 C390,445 390.5,442 391,439.2 C392.5,432 394,428 395.5,424.8 Z" fill="#f8f8f8"/>
<path d="M413.1,410.5 C410,415 409,419 409.2,422.6 L409.8,450.2 L413.1,477.8 L417.5,497.6" fill="none" stroke="#9a9a9a" stroke-width="1"/>
<!-- knob2 housing -->
<path d="M465,430.3 C470,430.5 476,431 480,431.4 C483,432.5 484.5,434 484.5,437 L484.5,452.6 C482,457 478,460 473.2,462.3 C470,463 467.5,463 466.5,462 Z" fill="#f2f2f2"/>
<ellipse cx="464.4" cy="446.9" rx="9.8" ry="11.3" fill="#3a3a3a"/>
<ellipse cx="465" cy="447.2" rx="7.3" ry="8.6" fill="#8c8c8c" stroke="#555" stroke-width="0.8"/>
<!-- pump vents -->
<path d="M439.6,474.5 L456.2,471.2 M439.6,480.5 L456,477.2 M439.6,486.6 L455.8,483.2 M439.6,492.7 L455.5,488.8 M439.6,498.8 L455,494.3" stroke-width="1.6" stroke="#222"/>
<!-- knob 10 -->
<path d="M402,437 L407,431 L412.5,432 L413.5,440 L409,444.7 L404,442 Z" fill="#555"/>
<ellipse cx="404.5" cy="437.5" rx="2.5" ry="3" fill="#bbb" stroke-width="0.8"/>
<!-- knob 9 -->
<path d="M400.4,456.6 L409.5,455.2 C412.5,455.5 413.7,459 413.7,463.2 C413.7,467.5 412,471 409.5,471.2 L400.4,471.5 Z" fill="#454545"/>
<ellipse cx="400.4" cy="464" rx="4.3" ry="7.3" fill="#e8e8e8"/>
<!-- knob 7 -->
<path d="M413,488 L416,488 C418,489 418.6,494 418.6,496.5 C418.6,500 417.5,503 416,504 L413,504 Z" fill="#f0f0f0"/>
<path d="M398.8,486.2 L412.5,485.8 C414.5,487 415.5,492 415.5,496 C415.5,500 414.5,504.5 412.5,505.9 L398.8,506.1 Z" fill="#6a6a6a"/>
<path d="M402,488 L404,505 M405,487.5 L407,505 M408,487.5 L410,505 M411,487 L413,505" stroke="#3a3a3a" stroke-width="0.9"/>
<ellipse cx="398.8" cy="496.2" rx="4.6" ry="9.8" fill="#ededed"/>
</g>

<!-- SUCTION HOSE -->
<g id="suction">
<path d="M328.9,378 C329,370 330,362 330.1,358 C331,350 333,344 334.1,340 C336,335 338,332 340.5,329.7 C343,326 346,323 349.8,321 C355,319.5 359,319.2 363.7,319.3 C370,319.5 375,321 379.9,322.7 C386,325 390,328 393.8,330.9 C398,334 401,339 403.1,342.4 C405,347 405,351 404.8,354 C404,358 402.5,361.5 400.7,364.5 C397,369 393,372 389.2,374.9 C385,378 382,381 379.9,384.2 C377.5,387.5 376.5,390 376.4,393.4 C376.2,398 376.5,402 377,405 L379.3,414.3" fill="none" stroke="#3a3a3a" stroke-width="6.4" stroke-linecap="butt"/>
<path d="M328.9,378 C329,370 330,362 330.1,358 C331,350 333,344 334.1,340 C336,335 338,332 340.5,329.7 C343,326 346,323 349.8,321 C355,319.5 359,319.2 363.7,319.3 C370,319.5 375,321 379.9,322.7 C386,325 390,328 393.8,330.9 C398,334 401,339 403.1,342.4 C405,347 405,351 404.8,354 C404,358 402.5,361.5 400.7,364.5 C397,369 393,372 389.2,374.9 C385,378 382,381 379.9,384.2 C377.5,387.5 376.5,390 376.4,393.4 C376.2,398 376.5,402 377,405 L379.3,414.3" fill="none" stroke="#cfcfcf" stroke-width="4.2" stroke-linecap="butt"/>
<path d="M379.3,414 C381,419 384,424 387,428" fill="none" stroke="#111" stroke-width="6" stroke-linecap="butt"/>
<path d="M384.5,432.5 L394.8,425 L398.5,437.5 Z" fill="#111"/>
<!-- filter 11 -->
<rect x="323.3" y="377.2" width="13.6" height="24.3" rx="2.5" fill="#e6e6e6" stroke="#222" stroke-width="1"/>
<rect x="323.5" y="377.2" width="13.2" height="4.2" rx="1.5" fill="#333"/>
<rect x="324" y="382.5" width="12.3" height="12.5" fill="#3c3c3c"/>
<path d="M326.5,383 V394.5 M329.5,383 V394.5 M332.5,383 V394.5" stroke="#9a9a9a" stroke-width="1"/>
</g>
<!-- HP HOSE END SPRING + NUT -->
<path d="M324.5,496.5 C335,492 350,485 369.6,474.4" fill="none" stroke="#1e1e1e" stroke-width="7"/>
<path d="M327,494.5 l2,4 M331,492.5 l2,4 M335,490.5 l2,4 M339,488.5 l2,4 M343,486.5 l2,4 M347,484.5 l2,4 M351,482.5 l2,4 M355,480.5 l2,4 M359,478.5 l2,4 M363,476.5 l2,4" stroke="#9a9a9a" stroke-width="1.2"/>
<path d="M366,470 L375,465.8 C378,466 379.5,470 379.4,474 C379,478 377,481 375,482 L369,483 C367,481 366,476 366,470 Z" fill="#6a6a6a" stroke="#1e1e1e" stroke-width="1"/>
<path d="M370,468 L372,482 M374,466.5 L376,481" stroke="#333" stroke-width="0.8"/>
<!-- COUPLING 8 -->
<path d="M373.3,499 C378,496 385,495 389,495.3 C392.5,496 394,502 393.8,507 C393.5,513 391,517.5 388,518 L376,519 C374,516 373,508 373.3,499 Z" fill="#6e6e6e" stroke="#1e1e1e" stroke-width="1"/>
<path d="M380,497 C383,500 384,512 381,518.5" fill="none" stroke="#aaa" stroke-width="1.6"/>
<path d="M364,509 L373.5,506 L374.5,517.5 L365,519.5 C363,517.5 363,511 364,509 Z" fill="#8a8a8a" stroke="#1e1e1e" stroke-width="1"/>
<ellipse cx="365" cy="514.3" rx="2" ry="4.6" fill="#bbb" stroke="#222" stroke-width="0.8"/>

<!-- HOSE COIL -->
<g id="coil" fill="none">
<ellipse cx="594" cy="538.5" rx="49" ry="27.0" transform="rotate(-4 594 538.5)" stroke="#222" stroke-width="5.4"/>
<ellipse cx="594" cy="538.5" rx="49" ry="27.0" transform="rotate(-4 594 538.5)" stroke="#b6b6b6" stroke-width="3.2"/>
<ellipse cx="594" cy="536.5" rx="48.4" ry="23.5" transform="rotate(-4 594 536.5)" stroke="#222" stroke-width="5.4"/>
<ellipse cx="594" cy="536.5" rx="48.4" ry="23.5" transform="rotate(-4 594 536.5)" stroke="#b6b6b6" stroke-width="3.2"/>
<ellipse cx="594" cy="534.25" rx="47.8" ry="19.75" transform="rotate(-4 594 534.25)" stroke="#222" stroke-width="5.4"/>
<ellipse cx="594" cy="534.25" rx="47.8" ry="19.75" transform="rotate(-4 594 534.25)" stroke="#b6b6b6" stroke-width="3.2"/>
<ellipse cx="594" cy="531.75" rx="47" ry="15.75" transform="rotate(-4 594 531.75)" stroke="#222" stroke-width="5.4"/>
<ellipse cx="594" cy="531.75" rx="47" ry="15.75" transform="rotate(-4 594 531.75)" stroke="#b6b6b6" stroke-width="3.2"/>
<ellipse cx="594" cy="529.5" rx="46" ry="12.0" transform="rotate(-4 594 529.5)" stroke="#222" stroke-width="5.4"/>
<ellipse cx="594" cy="529.5" rx="46" ry="12.0" transform="rotate(-4 594 529.5)" stroke="#b6b6b6" stroke-width="3.2"/>
<path d="M641,534 C646,548 651,568 659,578 C666,585 680,583 688,575 C695,567 697,556 696.4,546" stroke="#262626" stroke-width="5.2"/>
<path d="M641,534 C646,548 651,568 659,578 C666,585 680,583 688,575 C695,567 697,556 696.4,546" stroke="#b4b4b4" stroke-width="3"/>
<!-- spiral -->
<path d="M670,488 C680,496 690,508 694,522 C697,532 697,540 696.4,548" stroke="#1e1e1e" stroke-width="7.2"/>
<path d="M670,488 C680,496 690,508 694,522 C697,532 697,540 696.4,548" stroke="#8c8c8c" stroke-width="5" stroke-dasharray="1.3 2"/>
</g>
<!-- GUN -->
<g id="gun" stroke-linejoin="round">
<path d="M468.3,539.7 C469,536.5 471,535 473.2,534.5 L498.1,518.7 L531.2,494.7 L564.3,473.2 C576,465.5 585,460.5 590,459.3 C594,457 598,455.2 601,454.9 C603.5,454.7 605.5,455 607.7,455.5 L623.1,460.5 L645.2,467.1 L656.2,471 C660,472.5 663,473.5 665,474.8 C667,476 668.5,477 669.5,478.1 C671,479.5 671.7,481 671.7,482.5 C671.8,484.5 671.6,486.5 671.1,488 C670,490 668.8,492 667.3,493.6 L662.8,500.2 C660.5,502.5 658.5,504 656.2,505.7 C652,508 648.5,510 645.2,511.2 C641,512.5 637.5,513.2 634.2,513.4 L623.1,512.3 L612.1,510.1 L601,507.9 L590,506.8 L584.2,506.6 L574.3,507.4 L564.3,513.2 L551.1,521.5 L531.2,533 L508,546.3 L504.7,549.6 L486.5,557 L474.9,558.7 C472.5,558.5 471,557 470.2,555 C469,551 468.3,545 468.3,539.7 Z" fill="#969696" stroke="#1e1e1e" stroke-width="1.3"/>
<path d="M473.5,536 L498.1,520 L531.2,496 L564.3,474.5 C576,467 585,461.5 590,460.5 C594,458.5 598,456.5 601,456.2 C604,456 606,456.3 608,456.8 L623,461.5 L645,468 L656,472 C660,473.5 663,474.5 665,476 C650,478 635,474 620,474 C605,475 595,480 585,486 L560,500 L530,516 L500,532 L485,541 C480,543 476,543 473.5,541 Z" fill="#a8a8a8"/>
<path d="M600,457 C602,466 603,475 603,484 L590,491 C592,480 596,468 600,457 Z" fill="#b0b0b0" stroke="none"/>
<!-- trigger hole -->
<path d="M603.2,489.2 C605,485.5 608,483 612.1,482.5 L628.6,481.4 C636,481.5 641,483 645.2,485.8 C649,488.5 652,491 653.5,493.6 C654,497.5 651.5,501.5 647.4,503.5 C643,505.5 638,506.5 634.2,506.8 L617.6,504.6 C612,503 608.5,500.5 606.6,498 C604.5,495 603,492 603.2,489.2 Z" fill="#ffffff" stroke="#1e1e1e" stroke-width="1.2"/>
<path d="M612,483 C625,482 640,482.5 646,486.5 C650,489 652.5,492 653,494.5 C653,498.5 650,501.5 646,503.2 C643,504.5 641,505 638.6,505.2 Z" fill="#dadada" stroke="none"/>
<path d="M612,483 L638.6,505.2" stroke="#1e1e1e" stroke-width="1.1"/>
<!-- barrel ridge strips -->
<path d="M488.7,542 L546.1,507.7" stroke="#c6c6c6" stroke-width="1.8" stroke-linecap="round"/>
<path d="M489.8,546.4 L548.3,515.5" stroke="#c6c6c6" stroke-width="1.8" stroke-linecap="round"/>
<path d="M505,548.5 L531,534 L551,522.5 L564,514.5 L575,508.5 L584,507.6 L575,507.4 L564.3,513.2 L551.1,521.5 L531.2,533 L508,546.3 Z" fill="#7c7c7c" stroke="none"/>
<path d="M586,498 L604,503.5" stroke="#b8b8b8" stroke-width="3" stroke-linecap="round"/>
<!-- nose opening -->
<path d="M471,541 L478,537 C481,538 482,545 481,552 L476,555 C473,553 471,547 471,541 Z" fill="#3a3a3a"/>
<path d="M474.5,543 L479,541.5 L479.5,547 L475,548.5 Z" fill="#dcdcdc"/>
<rect x="660.3" y="488.8" width="2.8" height="2.8" fill="none" stroke="#222" stroke-width="0.9"/>
</g>
<!-- LANCE 6 -->
<g transform="translate(279,640) rotate(-29.4)" stroke="#1e1e1e" stroke-width="1.1" stroke-linejoin="round">
<path d="M40,-3.4 L146,-3.4 L146,3.4 L40,3.4 Z" fill="#9c9c9c"/>
<path d="M40,-1.6 L146,-1.6" stroke="#d8d8d8" stroke-width="1.2"/>
<path d="M145,-4.8 L160,-4.8 L160,4.8 L145,4.8 Z" fill="#8a8a8a"/>
<path d="M148,-4.8 v9.6 M151,-4.8 v9.6 M154,-4.8 v9.6 M157,-4.8 v9.6" stroke-width="0.8"/>
<path d="M160,-6.5 L167,-6.5 L168,6.5 L160,6.5 Z" fill="#a0a0a0"/>
<path d="M168,-3 L172,-3 L172,3 L168,3 Z" fill="#a0a0a0"/>
<path d="M4,-5.5 L35,-9.5 L35,9.5 L4,5.5 C1,5 -0.5,3 -0.5,0 C-0.5,-3 1,-5 4,-5.5 Z" fill="#a2a2a2"/>
<path d="M6,-3.8 L34,-7" stroke="#dcdcdc" stroke-width="1.6"/>
<ellipse cx="37" cy="0" rx="4" ry="10.3" fill="#8a8a8a"/>
<path d="M35.5,-9.8 C34,-5 34,5 35.5,9.8" fill="none" stroke="#bbb" stroke-width="0.9"/>
<ellipse cx="1" cy="0" rx="1.2" ry="2" fill="#ddd" stroke-width="0.7"/>
</g>
<!-- LANCE 5 -->
<g transform="translate(301,662) rotate(-31.4)" stroke="#1e1e1e" stroke-width="1.1" stroke-linejoin="round">
<path d="M44,-2.3 L150,-2.3 L150,2.3 L44,2.3 Z" fill="#a4a4a4"/>
<path d="M2,-4.2 C10,-5.6 25,-5.6 36,-4.3 C40,-3.5 42,-2.6 45,-2.3 L45,2.3 C42,2.6 40,3.5 36,4.3 C25,5.6 10,5.6 2,4.2 C-0.5,3.5 -0.8,-3.5 2,-4.2 Z" fill="#a6a6a6"/>
<path d="M8,-4.8 v9.6 M11,-5 v10 M14,-5.1 v10.2 M17,-5.1 v10.2 M20,-5.1 v10.2 M23,-5 v10 M26,-5 v10 M29,-4.9 v9.8 M32,-4.7 v9.4 M35,-4.4 v8.8" stroke="#6a6a6a" stroke-width="0.9"/>
<ellipse cx="1.2" cy="0" rx="1.2" ry="2.3" fill="#555" stroke-width="0.7"/>
<path d="M150,-2.3 C158,-3 165,-4.5 172,-5 L172,5 C165,4.5 158,3 150,2.3 Z" fill="#a2a2a2"/>
<path d="M156,-3 v6 M159,-3.5 v7 M162,-4 v8 M165,-4.4 v8.8 M168,-4.7 v9.4" stroke="#6a6a6a" stroke-width="0.8"/>
<path d="M172,-5.5 L180,-5.5 L181,5.5 L172,5.5 Z" fill="#8e8e8e"/>
<path d="M181,-2.5 L185,-2.5 L185,2.5 L181,2.5 Z" fill="#a0a0a0"/>
</g>
<!-- dashed connection -->
<path d="M432,553.8 L442.6,545.9 L462.5,559.1 L473.1,549.9 M461.2,561.8 L473,551" fill="none" stroke="#555" stroke-width="0.9" stroke-dasharray="2.2 1.8"/>

<!-- LEADERS -->
<g fill="none" stroke-linejoin="round">
<g stroke="#ffffff" stroke-width="2.6">
<path d="M705.6,430.4 H675.8 L467,448.5"/>
<path d="M700.7,607.4 H657 L604.4,556.3"/>
<path d="M705.6,460.6 H679.5 L640,469.9"/>
<path d="M232.2,565.5 H324.8 L379,530 L397,503"/>
</g>
<g stroke="#8a8a8a" stroke-width="1">
<path d="M232.3,380 H327"/>
<path d="M232.3,438.2 H404"/>
<path d="M232.3,461.9 H385 L399,464"/>
<path d="M232.2,509.8 H366"/>
<path d="M232.2,565.5 H324.8 L379,530 L397,503"/>
<path d="M232.2,598.3 H319.5 L336.7,604.2"/>
<path d="M232.2,654.2 H306.2"/>
<path d="M705.6,319.8 H679.5 L657.9,328.3"/>
<path d="M705.6,430.4 H675.8 L467,448.5"/>
<path d="M705.6,460.6 H679.5 L640,469.9"/>
<path d="M700.7,607.4 H657 L604.4,556.3"/>
</g>
</g>
<!-- LABELS -->
<g font-size="23" fill="#111">
<text x="225.5" y="389.5" text-anchor="end">11</text>
<text x="225.5" y="444.9" text-anchor="end">10</text>
<text x="225.5" y="469.9" text-anchor="end">9</text>
<text x="225.5" y="517.5" text-anchor="end">8</text>
<text x="225.5" y="572.3" text-anchor="end">7</text>
<text x="225.5" y="607.2" text-anchor="end">6</text>
<text x="225.5" y="660.8" text-anchor="end">5</text>
<text x="709" y="327.5">1</text>
<text x="709" y="437.8">2</text>
<text x="709" y="468.4">3</text>
<text x="709" y="614.4">4</text>
</g>
<text x="192.5" y="1020.5" font-size="17.6" font-weight="bold" fill="#111">2</text>
</svg>
</body></html>
